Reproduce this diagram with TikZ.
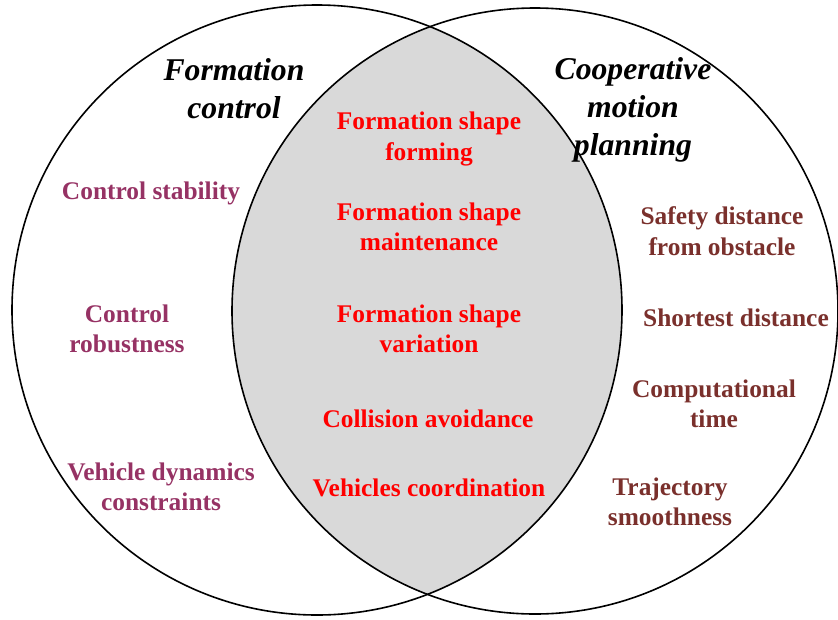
\documentclass[tikz,border=0pt]{standalone}
\usepackage{fontspec}
\setmainfont{Liberation Serif}
\usepackage{tikz}

\definecolor{lensgrey}{RGB}{217,217,217}
\definecolor{ctrlpurple}{RGB}{150,50,100}
\definecolor{planbrown}{RGB}{122,48,44}
\definecolor{sharedred}{RGB}{255,0,0}

\begin{document}
\begin{tikzpicture}[x=1pt,y=-1pt,
        title/.style={inner sep=0pt, align=center, font=\fontsize{31.7}{38}\selectfont\bfseries\itshape},
        item/.style={inner sep=0pt, align=center, font=\fontsize{25.4}{30.5}\selectfont\bfseries},
        ctrlitem/.style={item, text=ctrlpurple},
        planitem/.style={item, text=planbrown},
        shareditem/.style={item, text=sharedred}]
    \useasboundingbox (0,0) rectangle (838,619);

    % Centres of the two sets
    \coordinate (ctrl) at (317,310);
    \coordinate (plan) at (535,311);

    % Overlap of the two sets
    \begin{scope}
        \clip (ctrl) circle (305);
        \fill[lensgrey] (plan) circle (303);
    \end{scope}
    \draw[line width=1.6pt] (ctrl) circle (305);
    \draw[line width=1.6pt] (plan) circle (303);

    % Titles
    \node[title] (ctrltitle) at (234,89) {Formation\\control};
    \node[title] (plantitle) at (633,110) {Cooperative\\motion\\planning};

    % Formation control only
    \node[ctrlitem] (stability) at (151,193) {Control stability};
    \node[ctrlitem] (robust) at (127,329) {Control\\robustness};
    \node[ctrlitem] (dynamics) at (161,487) {Vehicle dynamics\\constraints};

    % Shared items
    \node[shareditem] (forming) at (429,139) {Formation shape\\forming};
    \node[shareditem] (maintain) at (429,227) {Formation shape\\maintenance};
    \node[shareditem] (variation) at (429,329) {Formation shape\\variation};
    \node[shareditem] (collision) at (428,419) {Collision avoidance};
    \node[shareditem] (coord) at (429,488) {Vehicles coordination};

    % Cooperative motion planning only
    \node[planitem] (safety) at (722,231) {Safety distance\\from obstacle};
    \node[planitem] (shortest) at (736,318) {Shortest distance};
    \node[planitem] (comptime) at (714,404) {Computational\\time};
    \node[planitem] (smooth) at (670,502) {Trajectory\\smoothness};
\end{tikzpicture}
\end{document}
